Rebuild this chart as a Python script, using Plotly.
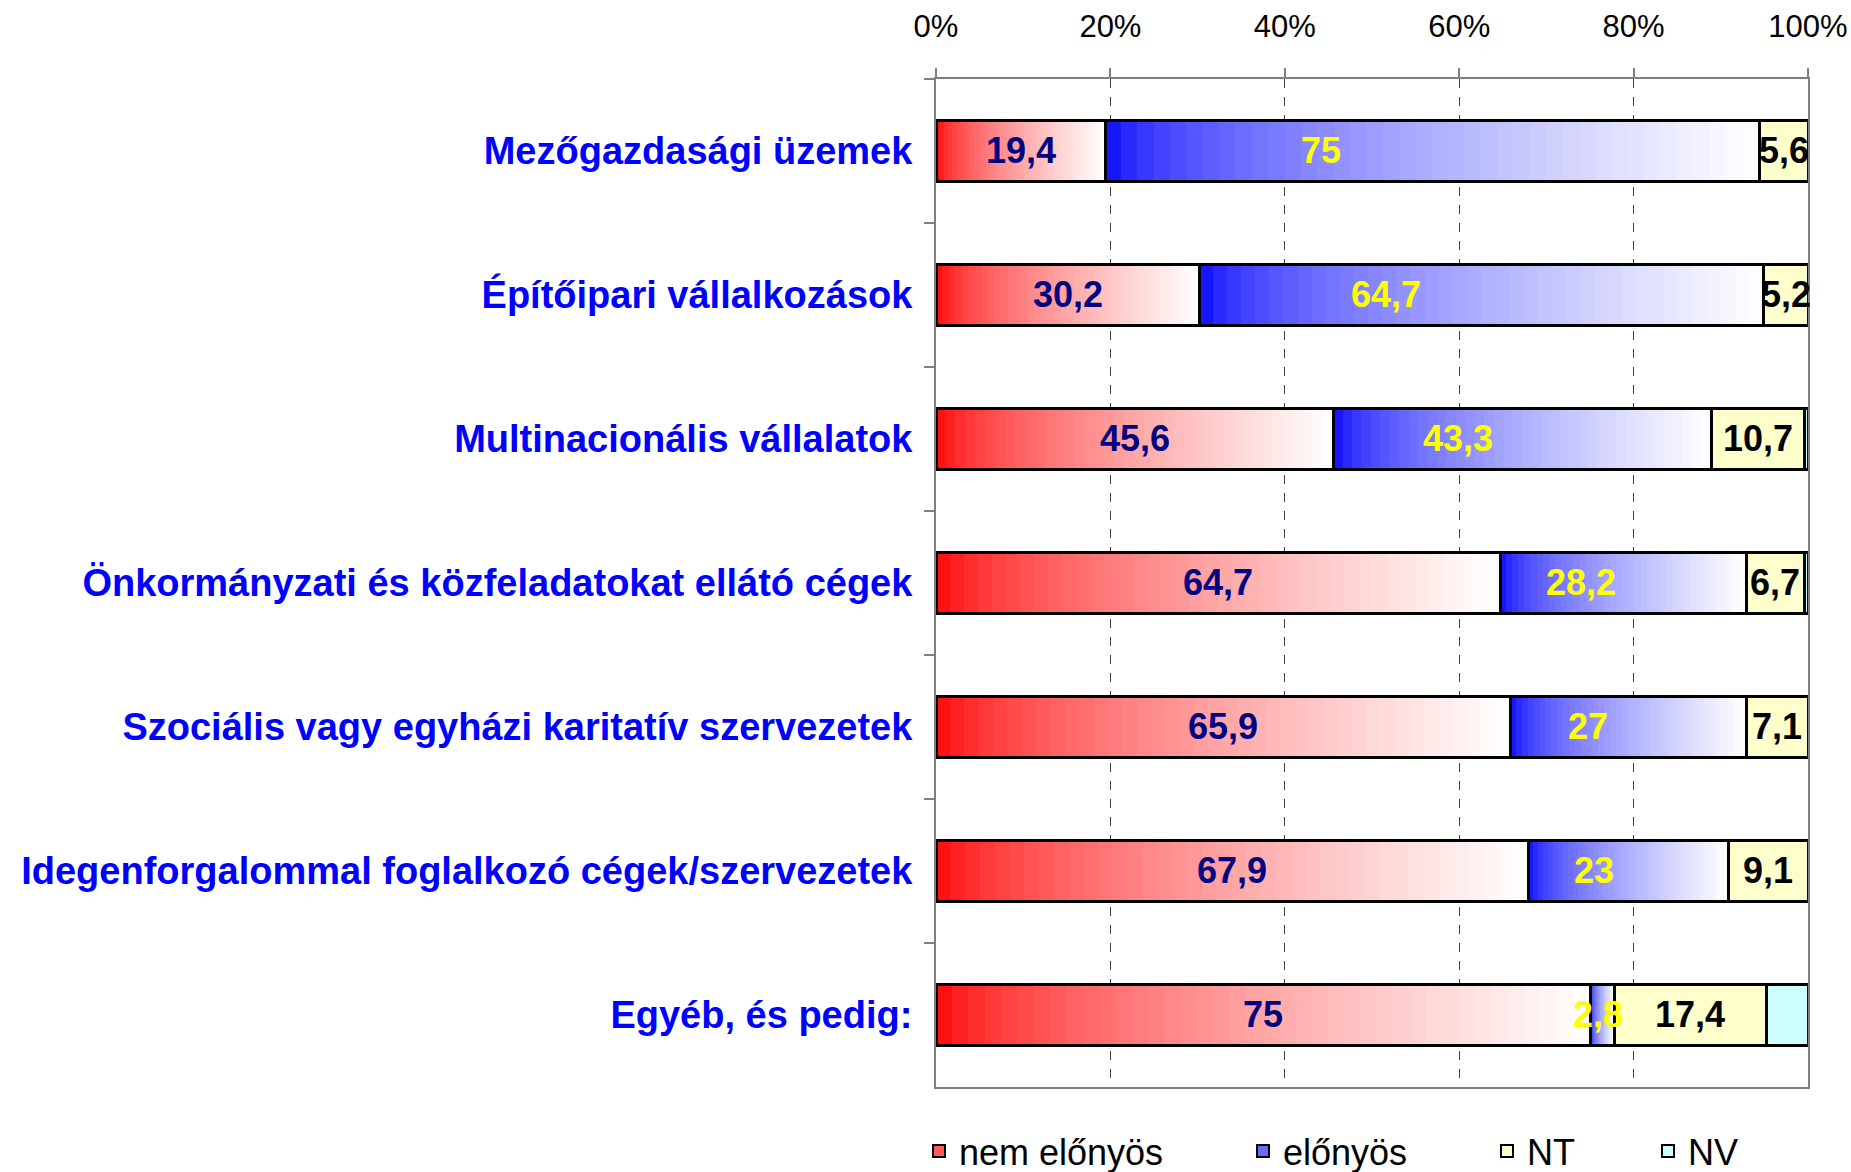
import plotly.graph_objects as go

# ---------------- data ----------------
categories = [
    "Mezőgazdasági üzemek",
    "Építőipari vállalkozások",
    "Multinacionális vállalatok",
    "Önkormányzati és közfeladatokat ellátó cégek",
    "Szociális vagy egyházi karitatív szervezetek",
    "Idegenforgalommal foglalkozó cégek/szervezetek",
    "Egyéb, és pedig:",
]
nem_elonyos = [19.4, 30.2, 45.6, 64.7, 65.9, 67.9, 75]
elonyos = [75, 64.7, 43.3, 28.2, 27, 23, 2.8]
nt = [5.6, 5.2, 10.7, 6.7, 7.1, 9.1, 17.4]
nv = [0, 0, 0.4, 0.4, 0, 0, 4.8]
series_names = ["nem előnyös", "előnyös", "NT", "NV"]
x_tick_vals = [0, 20, 40, 60, 80, 100]
x_tick_text = ["0%", "20%", "40%", "60%", "80%", "100%"]

# ---------------- style ----------------
FONT = "Liberation Sans, Arial, sans-serif"
N_SLICES = 40          # gradient rendering resolution
BLUE_LABEL_FRAC = 0.33 # blue labels sit left of centre in the original
NT_COLOR = "#FFFFCC"
NV_COLOR = "#CCFFFF"


def fmt(v):
    return ("%g" % v).replace(".", ",")


def grad(base, t, gamma):
    w = t ** gamma
    return "rgb(%d,%d,%d)" % tuple(round(c + (255 - c) * w) for c in base)


fig = go.Figure()

# gradient fills (each segment split into thin slices of its own value)
for vals, base, gamma in ((nem_elonyos, (255, 0, 0), 0.62), (elonyos, (0, 0, 255), 0.55)):
    for k in range(N_SLICES):
        c = grad(base, (k + 0.5) / N_SLICES, gamma)
        fig.add_trace(go.Bar(
            y=categories, x=[v / N_SLICES for v in vals], orientation="h",
            marker=dict(color=c, line=dict(color=c, width=1)),
            showlegend=False, hoverinfo="skip",
        ))
for vals, col in ((nt, NT_COLOR), (nv, NV_COLOR)):
    fig.add_trace(go.Bar(
        y=categories, x=vals, orientation="h",
        marker=dict(color=col, line=dict(width=0)),
        showlegend=False, hoverinfo="skip",
    ))

# outlines on an overlaying axis (separate stack)
for vals in (nem_elonyos, elonyos, nt, nv):
    fig.add_trace(go.Bar(
        y=categories, x=vals, orientation="h", xaxis="x2",
        marker=dict(color="rgba(0,0,0,0)", line=dict(color="black", width=3)),
        showlegend=False, hoverinfo="skip",
    ))

# data labels (annotations placed from the data values)
lab_font = dict(family=FONT, size=36, weight="bold")
label_sets = [
    ([r / 2 for r in nem_elonyos], nem_elonyos, "#000080"),
    ([r + BLUE_LABEL_FRAC * b for r, b in zip(nem_elonyos, elonyos)], elonyos, "#FFFF00"),
    ([r + b + n / 2 for r, b, n in zip(nem_elonyos, elonyos, nt)], nt, "black"),
]
annotations = []
for xs, vals, col in label_sets:
    for cat, xv, v in zip(categories, xs, vals):
        annotations.append(dict(
            x=xv, y=cat, xref="x", yref="y", text=fmt(v), showarrow=False,
            xanchor="center", yanchor="middle", yshift=1,
            font=dict(lab_font, color=col),
        ))

# legend entries (one legend per entry for exact placement)
leg_cols = ["#FF5A5A", "#6A6AFF", NT_COLOR, NV_COLOR]
leg_ids = ["legend", "legend2", "legend3", "legend4"]
for name, col, lid in zip(series_names, leg_cols, leg_ids):
    fig.add_trace(go.Bar(
        y=[None], x=[None], orientation="h", xaxis="x2", name=name,
        marker=dict(color=col, line=dict(color="black", width=2)),
        legend=lid, showlegend=True, hoverinfo="skip",
    ))

W, H = 1851, 1172
ML, MR, MT, MB = 936, 43, 79, 85
pw = W - ML - MR
ph = H - MT - MB


def px_x(p):
    return (p - ML) / pw


leg_y = -(1151 - (H - MB)) / ph
leg_font = dict(family=FONT, size=36, color="black")
legend_common = dict(orientation="h", yanchor="middle", y=leg_y, xanchor="left",
                     font=leg_font, bgcolor="rgba(0,0,0,0)", borderwidth=0)
sym_centers = [939, 1263, 1507, 1668]

layout_legends = {}
for lid, sx in zip(leg_ids, sym_centers):
    layout_legends[lid] = dict(legend_common, x=px_x(sx - 20))

fig.update_layout(
    width=W, height=H, autosize=False,
    margin=dict(l=ML, r=MR, t=MT, b=MB, pad=0, autoexpand=False),
    barmode="stack", bargap=0.57,
    plot_bgcolor="white", paper_bgcolor="white",
    font=dict(family=FONT, color="black"),
    xaxis=dict(
        range=[0, 100], side="top", tickvals=x_tick_vals, ticktext=x_tick_text,
        ticks="outside", ticklen=9, tickwidth=1.5, tickcolor="#808080",
        showline=True, linecolor="#808080", linewidth=2, mirror=True,
        showgrid=True, gridcolor="#404040", gridwidth=1, griddash="dash",
        zeroline=False, tickfont=dict(family=FONT, size=31, color="black"),
        ticklabelstandoff=19, fixedrange=True, automargin=False,
    ),
    xaxis2=dict(range=[0, 100], overlaying="x", visible=False, fixedrange=True,
                automargin=False),
    yaxis=dict(
        categoryorder="array", categoryarray=categories, autorange="reversed",
        ticks="outside", tickson="boundaries", ticklen=10, tickwidth=1.5,
        tickcolor="#808080", showline=True, linecolor="#808080", linewidth=2,
        mirror=True, showgrid=False, zeroline=False,
        tickfont=dict(family=FONT, size=38, color="#0000FF", weight="bold"),
        ticklabelstandoff=14, fixedrange=True, automargin=False,
    ),
    annotations=annotations,
    showlegend=True,
    **layout_legends,
)

fig.write_html(
    "out.html",
    config={"displayModeBar": False},
    post_script="document.body.style.margin='0';document.body.style.overflow='hidden';",
)
